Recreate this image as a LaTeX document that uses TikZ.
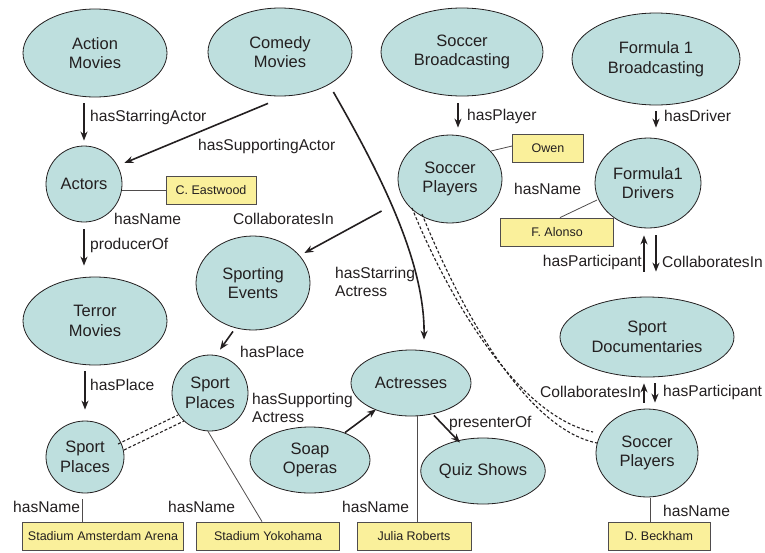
\documentclass[tikz,border=0pt]{standalone}
\usepackage{fontspec}
\setmainfont{Liberation Sans}
\usetikzlibrary{positioning,arrows.meta,shapes.geometric,calc}
\definecolor{concfill}{RGB}{190,223,222}
\definecolor{litfill}{RGB}{250,240,155}
\definecolor{ink}{RGB}{35,31,32}
\tikzset{
  concept/.style={ellipse,draw=ink,line width=0.8pt,fill=concfill,inner sep=0pt,
            align=center,font=\fontsize{16.5}{19.8}\selectfont,text=ink},
  literal/.style={rectangle,draw=ink!80,line width=0.8pt,fill=litfill,
            minimum height=28pt,inner sep=0pt,font=\fontsize{12.5}{15}\selectfont,text=ink},
  lbl/.style={anchor=west,inner sep=0pt,align=left,
            font=\fontsize{15.6}{18.5}\selectfont,text=ink},
  rel/.style={->,>={Stealth[length=9pt,width=7pt]},line width=1.6pt,ink},
  namelink/.style={line width=0.8pt,ink!80},
  samelink/.style={line width=1.1pt,ink,dash pattern=on 3pt off 2pt},
}

\begin{document}
\begin{tikzpicture}[x=1pt,y=-1pt]
  \useasboundingbox (0,0) rectangle (765,552);
  % concepts
  \node[concept,minimum width=144,minimum height=88] (am)  at (95,53)  {Action\\Movies};
  \node[concept,minimum width=144,minimum height=88] (cm)  at (280,52) {Comedy\\Movies};
  \node[concept,minimum width=162,minimum height=88] (sb)  at (462,52) {Soccer\\Broadcasting};
  \node[concept,minimum width=168,minimum height=92] (fb)  at (656,59) {Formula 1\\Broadcasting};
  \node[concept,minimum width=76,minimum height=76]  (actors) at (84,184) {Actors};
  \node[concept,minimum width=104,minimum height=88] (sp1) at (450,179) {Soccer\\Players};
  \node[concept,minimum width=106,minimum height=90] (fd)  at (648,183) {Formula1\\Drivers};
  \node[concept,minimum width=114,minimum height=94] (se)  at (253,283) {Sporting\\Events};
  \node[concept,minimum width=144,minimum height=88] (tm)  at (95,321) {Terror\\Movies};
  \node[concept,minimum width=76,minimum height=76]  (spm) at (210,393) {Sport\\Places};
  \node[concept,minimum width=78,minimum height=72]  (spl) at (85,457) {Sport\\Places};
  \node[concept,minimum width=120,minimum height=66] (so)  at (310,460) {Soap\\Operas};
  \node[concept,minimum width=120,minimum height=66] (ac)  at (411,383) {Actresses};
  \node[concept,minimum width=120,minimum height=66] (qs)  at (483,471) {Quiz Shows};
  \node[concept,minimum width=174,minimum height=80] (sd)  at (647,337) {Sport\\Documentaries};
  \node[concept,minimum width=102,minimum height=88] (sp2) at (647,453) {Soccer\\Players};

  % literals
  \node[literal,minimum width=90]  (eastwood)  at (211,190) {C. Eastwood};
  \node[literal,minimum width=71]  (owen)      at (548,148) {Owen};
  \node[literal,minimum width=113] (alonso)    at (557,232) {F. Alonso};
  \node[literal,minimum width=161] (amsterdam) at (103,536) {Stadium Amsterdam Arena};
  \node[literal,minimum width=143] (yokohama)  at (268,536) {Stadium Yokohama};
  \node[literal,minimum width=114] (julia)     at (414,536) {Julia Roberts};
  \node[literal,minimum width=102] (beckham)   at (659,536) {D. Beckham};

  % relations
  \draw[rel,shorten <=6pt,shorten >=5pt] (actors.north |- am.south) -- (actors.north);
  \draw[rel] ($(cm.south)+(-12,7)$) -- ($(actors.east)+(2,-21)$);
  \draw[rel,shorten <=7pt,shorten >=11pt] (actors.south -| actors.center) -- (actors.center |- tm.north);
  \draw[rel] ($(sp1.west)+(-16,32)$) -- ($(se.east)+(-6,-30)$);
  \draw[rel] ($(cm.east)+(-19,40)$) .. controls (378,170) and (425,260) .. ($(ac.north)+(13,-10)$);
  \draw[rel] ($(se.south)+(-20,1)$) -- ($(spm.north)+(10,-5)$);
  \draw[rel,shorten <=6pt,shorten >=11pt] (spl.center |- tm.south) -- (spl.center |- spl.north);
  \draw[rel] ($(so.north)+(35,6)$) -- ($(ac.south)+(-35,-7)$);
  \draw[rel] ($(ac.south)+(23,-1)$) -- ($(qs.north)+(-23,5)$);
  \draw[rel] ($(sb.south)+(-4,7)$) -- ($(sp1.north)+(8,-7)$);
  \draw[rel,shorten <=6pt,shorten >=10pt] (fb.south) -- (fb.south |- fd.north);
  \draw[rel] ($(sd.north)+(-3,-25)$) -- ($(fd.south)+(-4,7)$);
  \draw[rel] ($(fd.south)+(8,7)$) -- ($(sd.north)+(9,-25)$);
  \draw[rel] ($(sp2.north)+(-3,-6)$) -- ($(sd.south)+(-3,6)$);
  \draw[rel] ($(sd.south)+(8,6)$) -- ($(sp2.north)+(8,-6)$);

  % name links
  \draw[namelink] (actors.east |- eastwood.west) -- (eastwood.west);
  \draw[namelink] ($(sp1)+(41,-28)$) -- ($(owen.west)+(0,-2)$);
  \draw[namelink] ($(fd)+(-51,17)$) -- ($(alonso.north)+(3,0)$);
  \draw[namelink] ($(spm.south)+(-2,0)$) -- ($(yokohama.north)+(-6,0)$);
  \draw[namelink] ($(spl.south)+(-3,6)$) -- (amsterdam.north -| 82,0);
  \draw[namelink] ($(ac.south)+(6,-1)$) -- (julia.north -| 417,0);
  \draw[namelink] ($(sp2.south)+(3,1)$) -- (beckham.north -| 650,0);

  % same-as links
  \draw[samelink] ($(spl)+(33,-13)$) -- ($(spm)+(-32,22)$);
  \draw[samelink] ($(spl)+(39,-7)$) -- ($(spm)+(-26,28)$);
  \draw[samelink] ($(sp1)+(-38,29)$) .. controls (446,292) and (515,415) .. ($(sp2)+(-54,-21)$);
  \draw[samelink] ($(sp1)+(-28,35)$) .. controls (456,298) and (522,428) .. ($(sp2)+(-50,-10)$);

  % labels
  \node[lbl] (l1)  at (90,117)  {hasStarringActor};
  \node[lbl] (l2)  at (198,146) {hasSupportingActor};
  \node[lbl] (l3)  at (114,219) {hasName};
  \node[lbl] (l4)  at (90,245)  {producerOf};
  \node[lbl] (l5)  at (233,219) {CollaboratesIn};
  \node[lbl] (l6)  at (335,282) {hasStarring\\Actress};
  \node[lbl] (l7)  at (240,352) {hasPlace};
  \node[lbl] (l8)  at (90,385)  {hasPlace};
  \node[lbl] (l9)  at (252,408) {hasSupporting\\Actress};
  \node[lbl] (l10) at (13,507)  {hasName};
  \node[lbl] (l11) at (168,507) {hasName};
  \node[lbl] (l12) at (342,507) {hasName};
  \node[lbl] (l13) at (449,423) {presenterOf};
  \node[lbl] (l14) at (467,116) {hasPlayer};
  \node[lbl] (l15) at (664,116) {hasDriver};
  \node[lbl] (l16) at (514,189) {hasName};
  \node[lbl,anchor=east] (l17) at (642,262) {hasParticipant};
  \node[lbl] (l18) at (662,262) {CollaboratesIn};
  \node[lbl,anchor=east] (l19) at (641,392) {CollaboratesIn};
  \node[lbl] (l20) at (663,392) {hasParticipant};
  \node[lbl] (l21) at (663,511) {hasName};
\end{tikzpicture}
\end{document}
